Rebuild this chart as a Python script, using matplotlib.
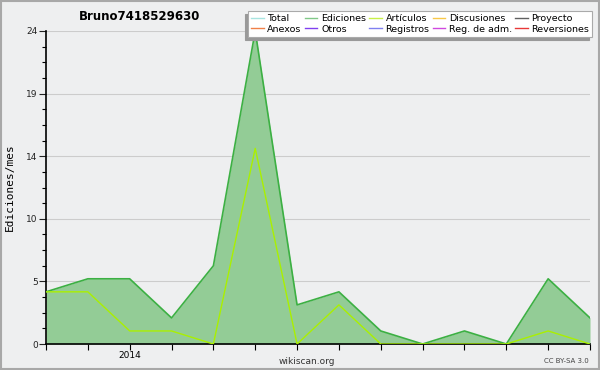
import matplotlib
matplotlib.use("Agg")
import matplotlib.pyplot as plt
from matplotlib.lines import Line2D

months = ["2013-11", "2013-12", "2014-01", "2014-02", "2014-03", "2014-04", "2014-05",
          "2014-06", "2014-07", "2014-08", "2014-09", "2014-10", "2014-11", "2014-12"]
x_tick_labels = ["", "", "2014", "", "", "", "", "", "", "", "", "", "", ""]
ediciones = [4, 5, 5, 2, 6, 24, 3, 4, 1, 0, 1, 0, 5, 2]
articulos = [4, 4, 1, 1, 0, 15, 0, 3, 0, 0, 0, 0, 1, 0]

legend_labels = ["Total", "Anexos", "Ediciones", "Otros", "Artículos", "Registros",
                 "Discusiones", "Reg. de adm.", "Proyecto", "Reversiones"]
legend_colors = ["#a8e4e0", "#f08048", "#80c888", "#8040f0", "#c8f048", "#8080f0",
                 "#f8c848", "#d048e0", "#606060", "#e83838"]

y_major = [0, 4.8, 9.6, 14.4, 19.2, 24]
y_major_labels = ["0", "5", "10", "14", "19", "24"]
y_minor = [i * 1.2 for i in range(21)]

bg = "#eeeff0"
fig = plt.figure(figsize=(6, 3.7), dpi=100, facecolor=bg)
ax = fig.add_axes([46/600, 26/370, 544/600, 313/370])
ax.set_facecolor(bg)

x = list(range(len(months)))
ax.fill_between(x, ediciones, 0, color="#93cc96", zorder=2, linewidth=0)
ax.plot(x, ediciones, color="#3cb043", lw=1.2, zorder=3)
ax.plot(x, articulos, color="#aaf000", lw=1.0, zorder=4)

ax.set_xlim(0, len(months) - 1)
ax.set_ylim(0, 24)
ax.set_yticks(y_major)
ax.set_yticklabels(y_major_labels)
ax.set_yticks(y_minor, minor=True)
ax.set_xticks(x)
ax.set_xticklabels(x_tick_labels)
ax.grid(axis="y", which="major", color="#cccccc", lw=0.8, zorder=1)
for s in ["top", "right"]:
    ax.spines[s].set_visible(False)
ax.spines["left"].set_linewidth(1.2)
ax.spines["bottom"].set_linewidth(1.2)
ax.tick_params(axis="y", which="major", length=5, width=0.8, labelsize=6.5, pad=1, colors="#222222")
ax.tick_params(axis="y", which="minor", length=3, width=0.8)
ax.tick_params(axis="x", which="major", length=4, width=0.8, labelsize=6.5, pad=1)
ax.set_ylabel("Ediciones/mes", fontsize=8, family="DejaVu Sans Mono", labelpad=8)

fig.text(140/600, 1 - 17/370, "Bruno7418529630", fontsize=8.5, fontweight="bold",
         ha="center", va="center")
fig.text(307/600, 1 - 361/370, "wikiscan.org", fontsize=6.5, ha="center", va="center", color="#333333")
fig.text(589/600, 1 - 361/370, "CC BY-SA 3.0", fontsize=5, ha="right", va="center", color="#444444")

handles = [Line2D([], [], color=c, lw=1) for c in legend_colors]
leg = fig.legend(handles, legend_labels, ncol=5, loc="upper right",
                 bbox_to_anchor=(592/600, 1 - 11/370), fontsize=6.8, frameon=True,
                 fancybox=False, shadow={"ox": -2.2, "oy": -2.2, "color": "#999999", "alpha": 1},
                 handlelength=1.3, handletextpad=0.4,
                 columnspacing=0.35, labelspacing=0.2, borderpad=0.3, borderaxespad=0)
leg.get_frame().set_edgecolor("#aaaaaa")
leg.get_frame().set_linewidth(0.8)
leg.get_frame().set_facecolor("white")

fig.patches.append(plt.Rectangle((0.0015, 0.0025), 0.997, 0.995, transform=fig.transFigure,
                                 fill=False, edgecolor="#a8a8a8", lw=1.5))
fig.savefig("out.png", dpi=100, facecolor=bg)
